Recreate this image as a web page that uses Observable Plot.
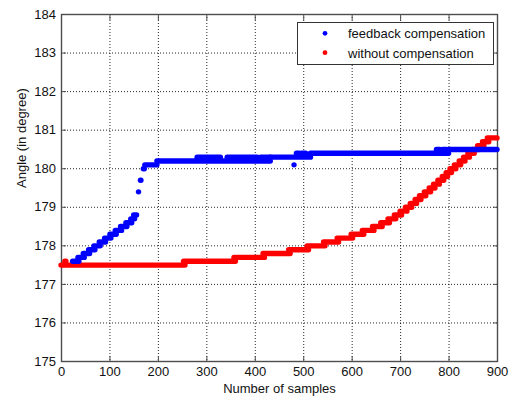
<!DOCTYPE html>
<html>
<head>
<meta charset="utf-8">
<script src="https://cdn.jsdelivr.net/npm/d3@7"></script>
<script src="https://cdn.jsdelivr.net/npm/@observablehq/plot@0.6"></script>
<style>
  html, body { margin: 0; padding: 0; background: #fff; }
  #wrap { position: relative; width: 511px; height: 399px; font-family: "Liberation Sans", Arial, Helvetica, sans-serif; }
  #legend { position: absolute; left: 0; top: 0; pointer-events: none; }
</style>
</head>
<body>
<div id="wrap"></div>
<script>
// ---- data ----
// Each run: samples [start, end] that sit at a constant quantised angle value.
const seriesNames = ["feedback compensation", "without compensation"];

const blueStart = [24, 35, 46, 57, 68, 79, 90, 101, 112, 123, 134, 144, 150, 160, 164, 170, 173, 198, 281, 303, 316, 343, 376, 412, 432, 481, 486, 497, 515, 775, 788, 800];
const blueEnd   = [37, 48, 59, 70, 81, 92, 103, 114, 125, 136, 146, 152, 156, 160, 165, 172, 198, 432, 300, 312, 329, 372, 405, 432, 515, 481, 492, 505, 800, 782, 796, 900];
const blueValue = [177.6, 177.7, 177.8, 177.9, 178.0, 178.1, 178.2, 178.3, 178.4, 178.5, 178.6, 178.7, 178.8, 179.4, 179.7, 180.0, 180.1, 180.2, 180.3, 180.3, 180.3, 180.3, 180.3, 180.3, 180.3, 180.1, 180.4, 180.4, 180.4, 180.5, 180.5, 180.5];

const redStart = [0, 8, 253, 357, 417, 470, 508, 542, 570, 599, 622, 643, 660, 675, 688, 700, 711, 721, 731, 740, 750, 760, 769, 778, 787, 795, 803, 812, 822, 831, 840, 850, 860, 870, 880];
const redEnd   = [256, 10, 360, 420, 473, 511, 545, 573, 602, 625, 646, 663, 678, 691, 703, 714, 724, 734, 743, 753, 763, 772, 781, 790, 798, 806, 815, 825, 834, 843, 853, 863, 873, 883, 900];
const redValue = [177.5, 177.6, 177.6, 177.7, 177.8, 177.9, 178.0, 178.1, 178.2, 178.3, 178.4, 178.5, 178.6, 178.7, 178.8, 178.9, 179.0, 179.1, 179.2, 179.3, 179.4, 179.5, 179.6, 179.7, 179.8, 179.9, 180.0, 180.1, 180.2, 180.3, 180.4, 180.5, 180.6, 180.7, 180.8];

const xTicks = [0, 100, 200, 300, 400, 500, 600, 700, 800, 900];
const yTicks = [175, 176, 177, 178, 179, 180, 181, 182, 183, 184];

const xLabel = "Number of samples";
const yLabel = "Angle (in degree)";

// ---- styles ----
const colors = ["#0000ff", "#ff0000"];
const axisColor = "#4d4d4d";

const blueRuns = blueStart.map((s, i) => ({s0: s, s1: blueEnd[i], v: blueValue[i]}));
const redRuns = redStart.map((s, i) => ({s0: s, s1: redEnd[i], v: redValue[i]}));

const W = 511, H = 399;
const mL = 61, mR = 14, mT = 14, mB = 38;

const runStyle = {strokeWidth: 5.4, strokeLinecap: "round", strokeLinejoin: "round"};
const noText = () => "";

const chart = Plot.plot({
  width: W,
  height: H,
  marginLeft: mL,
  marginRight: mR,
  marginTop: mT,
  marginBottom: mB,
  style: {fontFamily: "'Liberation Sans', Arial, sans-serif", fontSize: "13px", color: "#111", background: "#fff", overflow: "visible"},
  x: {domain: [0, 900]},
  y: {domain: [175, 184]},
  marks: [
    Plot.gridX({ticks: xTicks, stroke: "#000", strokeOpacity: 0.85, strokeDasharray: "1,2"}),
    Plot.gridY({ticks: yTicks, stroke: "#000", strokeOpacity: 0.85, strokeDasharray: "1,2"}),
    Plot.frame({stroke: axisColor, strokeWidth: 1.4}),
    Plot.axisX({ticks: xTicks, tickSize: 0, tickPadding: 5, label: null}),
    Plot.axisX({ticks: xTicks, tickSize: 5, dy: -5, tickFormat: noText, label: null, stroke: axisColor}),
    Plot.axisX({ticks: xTicks, anchor: "top", tickSize: 5, dy: 5, tickFormat: noText, label: null, stroke: axisColor}),
    Plot.axisY({ticks: yTicks, tickSize: 0, tickPadding: 5.5, label: null}),
    Plot.axisY({ticks: yTicks, tickSize: 5, dx: 5, tickFormat: noText, label: null, stroke: axisColor}),
    Plot.axisY({ticks: yTicks, anchor: "right", tickSize: 5, dx: -5, tickFormat: noText, label: null, stroke: axisColor}),
    Plot.text([xLabel], {frameAnchor: "bottom", dy: 31, lineAnchor: "bottom", fontSize: 13, fill: "#111"}),
    Plot.text([yLabel], {frameAnchor: "left", dx: -35.5, rotate: -90, lineAnchor: "bottom", fontSize: 13, fill: "#111"}),
    Plot.ruleY(redRuns, {y: "v", x1: "s0", x2: "s1", stroke: colors[1], ...runStyle}),
    Plot.ruleY(blueRuns, {y: "v", x1: "s0", x2: "s1", stroke: colors[0], ...runStyle})
  ]
});

const wrap = document.getElementById("wrap");
wrap.appendChild(chart);

// ---- legend (box inside the plot area, top right) ----
const leg = d3.select(wrap).append("svg")
  .attr("id", "legend")
  .attr("width", W)
  .attr("height", H);
const box = {x: 297, y: 22, w: 196, h: 42};
leg.append("rect")
  .attr("x", box.x + 0.5).attr("y", box.y + 0.5)
  .attr("width", box.w).attr("height", box.h)
  .attr("fill", "#fff").attr("stroke", "#333").attr("stroke-width", 1);
seriesNames.forEach((name, i) => {
  const cy = box.y + 11.3 + i * 19.4;
  leg.append("circle")
    .attr("cx", box.x + 28).attr("cy", cy).attr("r", 2.4)
    .attr("fill", colors[i]);
  leg.append("text")
    .attr("x", box.x + 51).attr("y", cy + 4.9)
    .attr("font-family", "'Liberation Sans', Arial, sans-serif")
    .attr("font-size", 13)
    .attr("fill", "#111")
    .text(name);
});
</script>
</body>
</html>
